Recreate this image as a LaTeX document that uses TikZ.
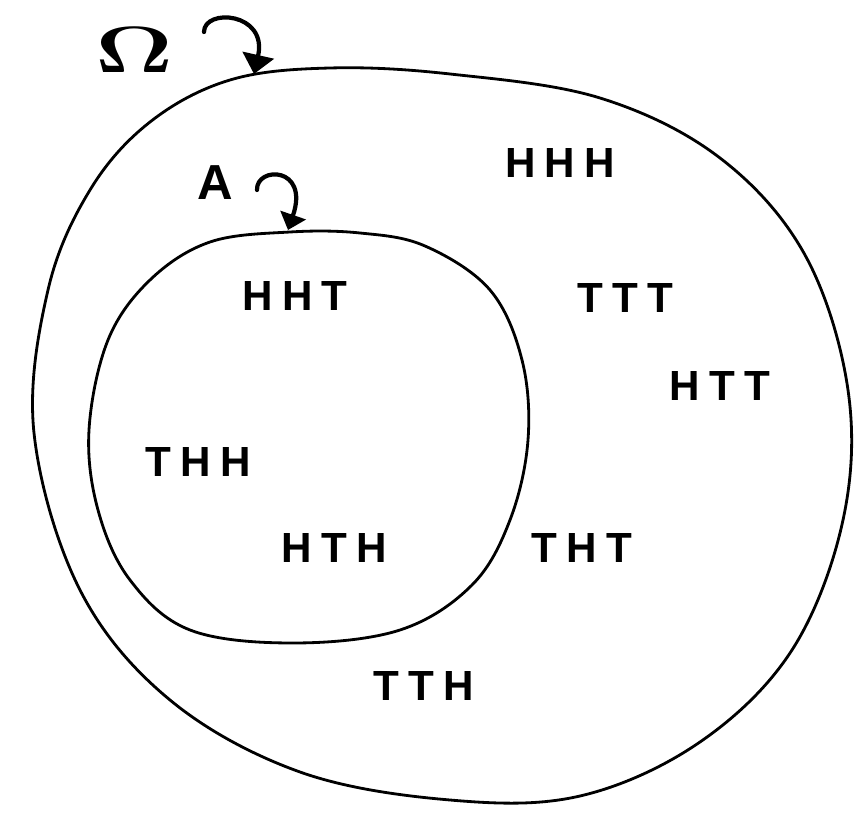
\documentclass[tikz,border=0pt]{standalone}
\usepackage{fontspec}
\setsansfont[LetterSpace=22]{Liberation Sans}
\usetikzlibrary{positioning,arrows.meta}
\tikzset{
  outcome/.style={font=\sffamily\bfseries\fontsize{24}{28}\selectfont},
  setline/.style={line width=1.6pt},
  hook/.style={line width=2.4pt,line cap=round}
}
\begin{document}
\begin{tikzpicture}[x=0.02cm,y=-0.02cm]
\useasboundingbox (0,0) rectangle (865,813);
% sample space and event
\draw[setline] plot[smooth cycle,tension=0.6] coordinates {
(330,68) (450,74) (600,98) (720,158) (805,255) (848,390) (843,520)
(792,650) (700,742) (580,796) (450,800) (300,772) (170,700) (80,590)
(34,433) (48,290) (90,190) (150,122) (230,80)};
\draw[setline] plot[smooth cycle,tension=0.6] coordinates {
(290,232) (360,233) (425,246) (490,290) (522,360) (528,440) (510,520)
(472,585) (400,630) (293,643) (190,630) (130,580) (98,510) (89,430)
(108,340) (150,280) (210,242)};
% labels
\node[font=\boldmath\Huge] (omega) at (135,50) {\scalebox{2.2}[1.5]{$\Omega$}};
\node[font=\sffamily\bfseries\fontsize{28}{30}\selectfont] (A) at (215,183) {A};
\coordinate (omegaTail) at (204,32);
\coordinate (omegaTip) at (254,74);
\coordinate (ATail) at (257,190);
\coordinate (ATip) at (288,230);
\draw[hook,-{Triangle[length=11pt,width=18pt]}] (omegaTail) .. controls (204,8) and (268,12) .. (omegaTip);
\draw[hook,-{Triangle[length=9pt,width=15pt]}] (ATail) .. controls (256,166) and (310,166) .. (ATip);
% outcomes
\foreach \t/\x/\y in {HHH/560/163,HHT/295/296,TTT/625/298,HTT/720/386,
THH/198/462,HTH/334/548,THT/582/548,TTH/424/686}{
\node[outcome] (\t) at (\x,\y) {\t};
}
\end{tikzpicture}
\end{document}
